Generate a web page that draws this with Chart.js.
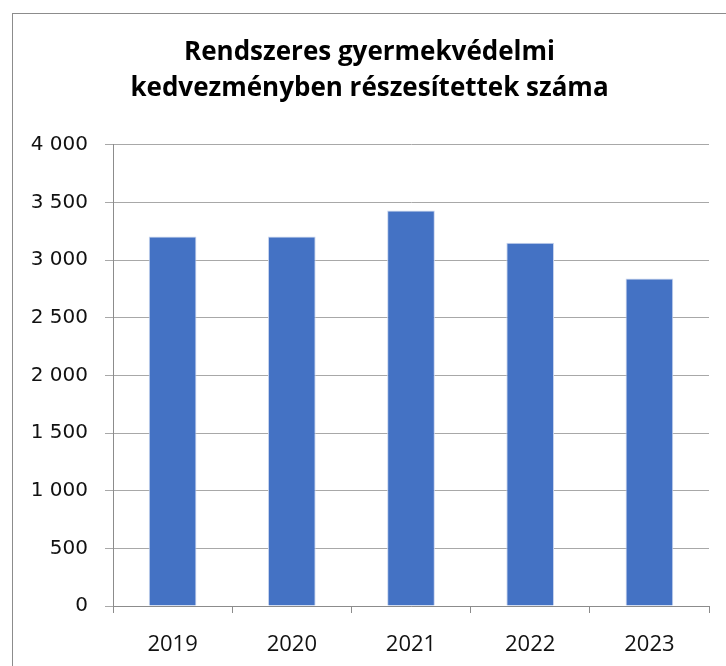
<!DOCTYPE html>
<html>
<head>
<meta charset="utf-8">
<script src="https://cdn.jsdelivr.net/npm/chart.js@4"></script>
<style>
  html, body { margin: 0; padding: 0; background: #fff; }
  #wrap { position: relative; width: 726px; height: 666px; overflow: hidden; }
  #frame { position: absolute; left: 12px; top: 13px; width: 800px; height: 800px; border: 1px solid #8c8c8c; }
  canvas { position: absolute; left: 0; top: 0; }
</style>
</head>
<body>
<div id="wrap">
  <div id="frame"></div>
  <canvas id="chart1" width="726" height="666"></canvas>
</div>
<script>
const years = ['2019', '2020', '2021', '2022', '2023'];
const counts = [3205, 3205, 3430, 3150, 2840];
const yTicks = [0, 500, 1000, 1500, 2000, 2500, 3000, 3500, 4000];
const titleLines = ['Rendszeres gyermekvédelmi', 'kedvezményben részesítettek száma'];

// thousands with a space, like the original
function fmt(v) {
    return String(v).replace(/\B(?=(\d{3})+(?!\d))/g, ' ');
}

const chart1 = new Chart('chart1', {
    type: 'bar',
    data: {
        labels: years,
        datasets: [
            {
                data: counts,
                backgroundColor: '#4472C4',
                borderColor: '#c9d5ee',
                borderWidth: 1,
                categoryPercentage: 1,
                barPercentage: 0.4
            }
        ]
    },
    options: {
        responsive: false,
        animation: false,
        layout: { padding: { left: 30, right: 17, top: 0, bottom: 0 } },
        plugins: {
            legend: { display: false },
            tooltip: { enabled: false },
            title: {
                display: true,
                text: titleLines,
                color: '#000',
                font: { family: "'Open Sans', sans-serif", size: 26, weight: 'bold', lineHeight: 1.38 },
                padding: { top: 35, bottom: 38 }
            }
        },
        scales: {
            x: {
                grid: { display: true, drawOnChartArea: false, offset: true, tickLength: 7, color: '#8c8c8c' },
                border: { color: '#8c8c8c' },
                ticks: {
                    color: '#111',
                    padding: 19,
                    font: { family: "'Open Sans', sans-serif", size: 22 }
                },
                afterFit: s => { s.height = 60; }
            },
            y: {
                min: 0,
                max: 4000,
                afterBuildTicks: s => { s.ticks = yTicks.map(v => ({ value: v })); },
                grid: { color: '#a8a8a8', tickLength: 8 },
                border: { color: '#8c8c8c' },
                ticks: {
                    color: '#111',
                    padding: 17,
                    font: { family: "'DejaVu Sans', sans-serif", size: 20 },
                    callback: v => fmt(v)
                },
                afterFit: s => { s.width = 83; }
            }
        }
    }
});
</script>
</body>
</html>
